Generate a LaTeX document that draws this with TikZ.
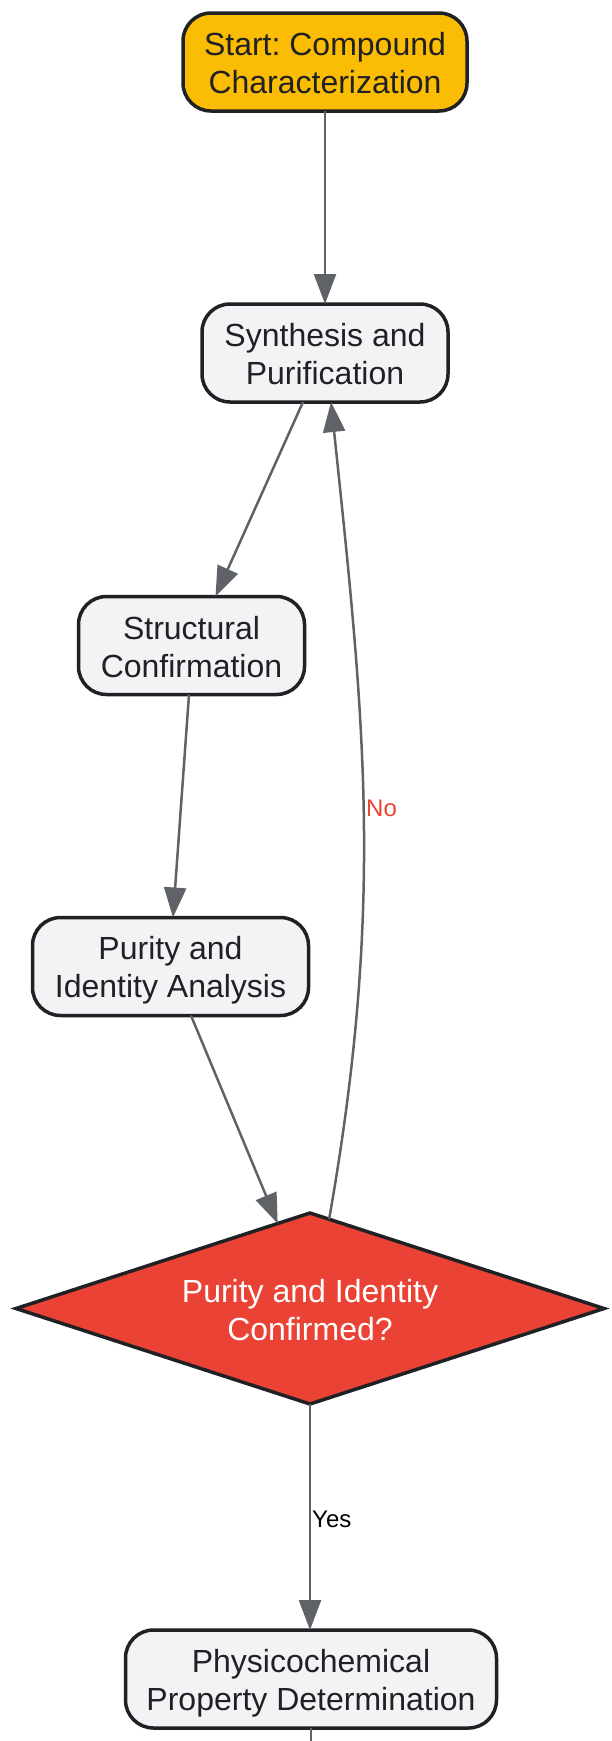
\documentclass[tikz,border=0pt]{standalone}
\usepackage{fontspec}
\setmainfont{Liberation Sans}
\usetikzlibrary{shapes.geometric,arrows.meta,calc}
\definecolor{edgegray}{HTML}{5F6368}
\definecolor{borderdark}{HTML}{202124}
\definecolor{boxfill}{HTML}{F1F3F4}
\definecolor{startfill}{HTML}{FBBC04}
\definecolor{decfill}{HTML}{EA4335}
\frenchspacing
\newcommand{\mytopstrut}{\rule{0pt}{31.5pt}}
\newcommand{\mybotstrut}{\rule[-6.5pt]{0pt}{6.5pt}}
\begin{document}
\begin{tikzpicture}[x=1pt,y=1pt,
  nodefont/.style={font=\fontsize{32}{38}\selectfont},
  procbox/.style={nodefont, draw=borderdark, line width=3.5pt, rounded corners=28pt, fill=boxfill, text=borderdark, align=center, minimum height=98pt, inner sep=0pt, outer sep=0pt},
  startbox/.style={procbox, fill=startfill},
  decbox/.style={nodefont, diamond, aspect=3.07, draw=borderdark, line width=3.5pt, fill=decfill, text=white, align=center, minimum width=588pt, minimum height=191pt, inner sep=0pt, outer sep=0pt},
  edgeline/.style={draw=edgegray, line width=2.5pt},
  edge/.style={edgeline, -{Triangle[length=30pt,width=22pt]}},
  edgelabel/.style={font=\fontsize{24}{28}\selectfont, inner sep=0pt, anchor=base west}
]
\useasboundingbox (0,0) rectangle (611,-1741);
\node[startbox, minimum width=284pt] (start) at (325,-62) {\mytopstrut Start: Compound\\Characterization\mybotstrut};
\node[procbox, minimum width=246pt] (syn) at (325,-353) {\mytopstrut Synthesis and\\Purification\mybotstrut};
\node[procbox, minimum width=226pt] (str) at (191.5,-645.5) {\mytopstrut Structural\\Confirmation\mybotstrut};
\node[procbox, minimum width=276pt] (pur) at (170.5,-966.5) {\mytopstrut Purity and\\Identity Analysis\mybotstrut};
\node[decbox] (dec) at (310,-1308.5) {\mytopstrut Purity and Identity\\Confirmed?\mybotstrut};
\node[procbox, minimum width=371pt] (phys) at (311,-1679) {\mytopstrut Physicochemical\\Property Determination\mybotstrut};
\coordinate (bot) at (311,-1741);

\draw[edge] (start.south) -- (syn.north);
\draw[edge] ([xshift=-22pt]syn.south) -- ([xshift=24pt]str.north);
\draw[edge] ([xshift=-2.5pt]str.south) -- ([xshift=2.5pt]pur.north);
\draw[edge] ([xshift=20.5pt]pur.south) -- ($(dec.north)!0.11!(dec.west)$);
\draw[edge] ($(dec.north)!0.065!(dec.east)$) to[out=80,in=-84] ([xshift=6pt]syn.south);
\draw[edge] (dec.south) -- (dec.south |- phys.north);
\draw[edgeline] (phys.south) -- (bot);

\node[edgelabel, text=decfill] (nolab) at (366,-816) {No};
\node[edgelabel, text=black] (yeslab) at (312,-1527) {Yes};
\end{tikzpicture}
\end{document}
